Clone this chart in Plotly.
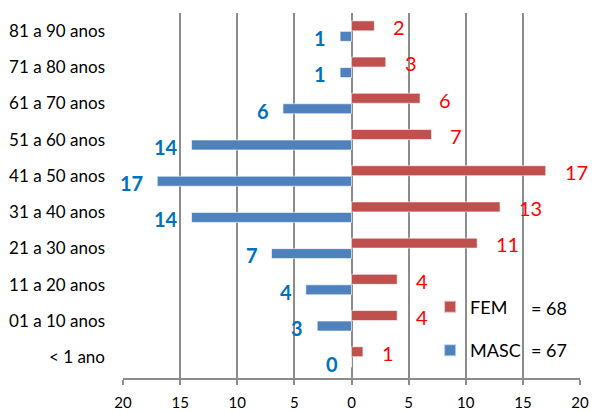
import plotly.graph_objects as go

categories = ["< 1 ano", "01 a 10 anos", "11 a 20 anos", "21 a 30 anos", "31 a 40 anos",
              "41 a 50 anos", "51 a 60 anos", "61 a 70 anos", "71 a 80 anos", "81 a 90 anos"]
fem = [1, 4, 4, 11, 13, 17, 7, 6, 3, 2]
masc = [0, 3, 4, 7, 14, 17, 14, 6, 1, 1]
fem_total = 68
masc_total = 67
tick_vals = [-20, -15, -10, -5, 0, 5, 10, 15, 20]
tick_text = ["20", "15", "10", "5", "0", "5", "10", "15", "20"]

FONT = "Lato"
RED = "#C0504D"
BLUE = "#4F81BD"
GRID = "#8C8C8C"

fig = go.Figure()
fig.add_trace(go.Bar(
    y=categories, x=[-v for v in masc], orientation="h", name="MASC",
    marker=dict(color=BLUE, line=dict(color="rgba(255,255,255,0.6)", width=1)),
    legendrank=2, legendgroup="m", hoverinfo="skip",
))
fig.add_trace(go.Bar(
    y=categories, x=fem, orientation="h", name="FEM",
    marker=dict(color=RED, line=dict(color="rgba(255,255,255,0.6)", width=1)),
    legendrank=1, legendgroup="f", hoverinfo="skip",
))

annotations = []
for c, v in zip(categories, fem):
    annotations.append(dict(x=v, y=c, xref="x", yref="y", text=str(v), showarrow=False,
                            xanchor="left", yanchor="middle", xshift=17, yshift=4,
                            font=dict(family=FONT, size=20, color="#FF0000")))
for c, v in zip(categories, masc):
    annotations.append(dict(x=-v, y=c, xref="x", yref="y", text="<b>%d</b>" % v, showarrow=False,
                            xanchor="right", yanchor="middle", xshift=-12, yshift=-7,
                            font=dict(family=FONT, size=20, color="#0070C0")))
annotations.append(dict(x=15.55, y=0.192, xref="x", yref="paper", text="= %d" % fem_total,
                        showarrow=False, xanchor="left", yanchor="middle",
                        font=dict(family=FONT, size=18, color="#000000")))
annotations.append(dict(x=15.55, y=0.077, xref="x", yref="paper", text="= %d" % masc_total,
                        showarrow=False, xanchor="left", yanchor="middle",
                        font=dict(family=FONT, size=18, color="#000000")))

fig.update_layout(
    width=591, height=405,
    margin=dict(l=115, r=19, t=5, b=35, autoexpand=False),
    paper_bgcolor="white", plot_bgcolor="white",
    barmode="group", bargap=0.42, bargroupgap=0.05,
    font=dict(family=FONT, color="#000000"),
    showlegend=True,
    legend=dict(x=0.672, y=0.245, xanchor="left", yanchor="top",
                bgcolor="rgba(0,0,0,0)", font=dict(family=FONT, size=18),
                traceorder="grouped", tracegroupgap=17, itemsizing="constant"),
    annotations=annotations,
)
fig.update_xaxes(
    range=[-20, 20], tickvals=tick_vals, ticktext=tick_text,
    showgrid=True, gridcolor=GRID, gridwidth=2,
    showline=True, linecolor=GRID, linewidth=2,
    ticks="outside", ticklen=5, tickcolor=GRID, tickwidth=2,
    zeroline=False, tickfont=dict(family=FONT, size=15),
    ticklabelstandoff=5, automargin=False,
)
fig.update_yaxes(
    categoryorder="array", categoryarray=categories,
    showgrid=False, showline=False, ticks="", zeroline=False,
    tickfont=dict(family=FONT, size=17), ticklabelstandoff=17, automargin=False,
)

fig.write_html("out.html")
